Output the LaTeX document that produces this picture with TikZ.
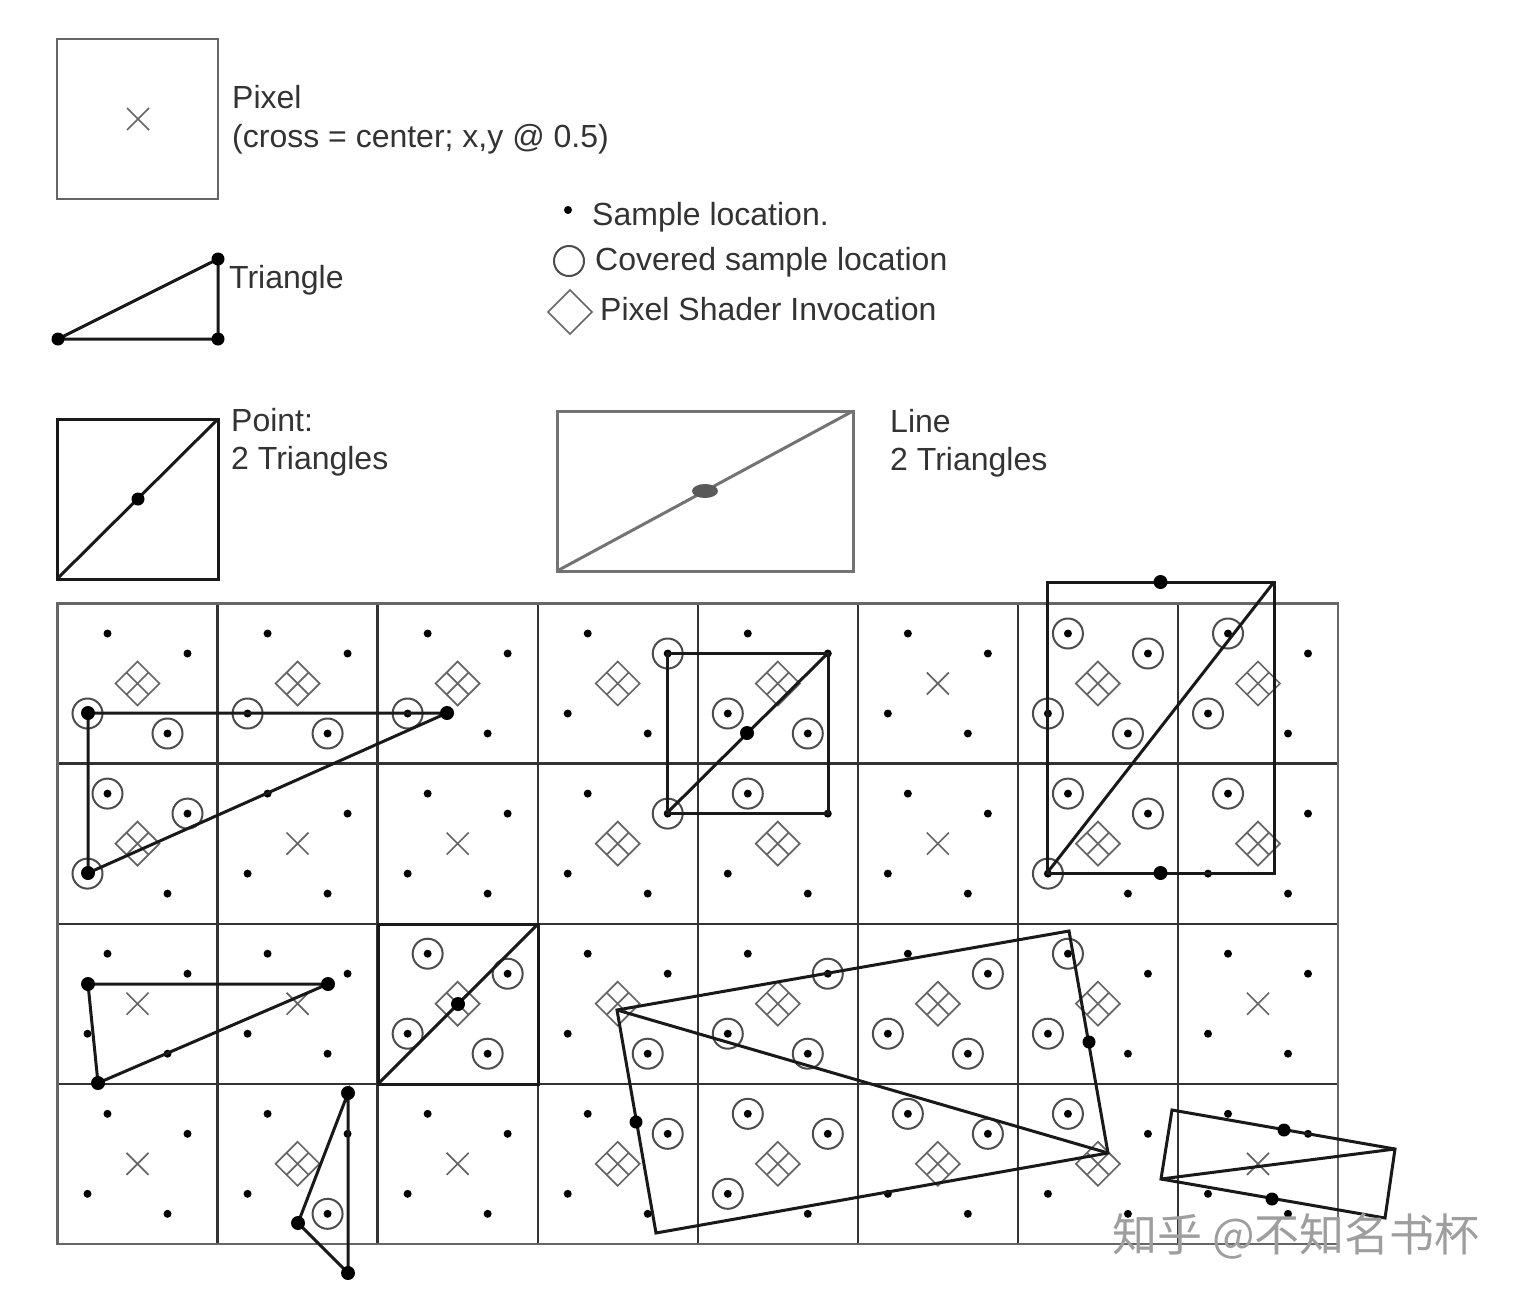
\documentclass[tikz,border=0pt]{standalone}
\usepackage{fontspec}
\setmainfont{Liberation Sans}
\newfontfamily\cjkwm{Noto Sans CJK SC}
\usetikzlibrary{calc}
\definecolor{inkline}{HTML}{333333}
\definecolor{softline}{HTML}{666666}
\definecolor{textink}{HTML}{333333}
\tikzset{
  lbl/.style={anchor=base west,inner sep=0pt,text=textink,font=\fontsize{32}{38}\selectfont},
  gridline/.style={draw=inkline,line width=2.4pt},
  outerline/.style={draw=softline,line width=2.4pt},
  prim/.style={draw=black!90,line width=3pt,line join=miter},
  sampledot/.style={fill=black},
  vertexdot/.style={fill=black},
  covring/.style={draw=black!70,line width=2pt},
  markline/.style={draw=softline,line width=1.7pt}
}
\newcommand{\drawdiamond}[1]{%
  \draw[markline,shift={(#1)}] (-22,0) -- (0,-22) -- (22,0) -- (0,22) -- cycle
     (-11,-11) -- (11,11) (-11,11) -- (11,-11);}
\newcommand{\drawcross}[1]{%
  \draw[markline,shift={(#1)}] (-11,-11) -- (11,11) (-11,11) -- (11,-11);}
\newcommand{\covered}[3]{\draw[covring] (s-#1-#2-#3) circle[radius=15pt];}
\begin{document}
\begin{tikzpicture}[x=1pt,y=-1pt]
\useasboundingbox (0,0) rectangle (1522,1298);
\fill[white] (0,0) rectangle (1522,1298);

% ---------- legend ----------
\coordinate (pxa) at (57,39); \coordinate (pxb) at (218,199); \coordinate (pxc) at (138,119);
\draw[outerline] (pxa) rectangle (pxb);
\drawcross{pxc}
\node[lbl] (tpixel) at (232,108) {Pixel};
\node[lbl] (tcross) at (232,147) {(cross = center; x,y @ 0.5)};

\coordinate (lta) at (58,339); \coordinate (ltb) at (218,259); \coordinate (ltc) at (218,339);
\draw[prim] (lta) -- (ltb) -- (ltc) -- cycle;
\foreach \pp in {lta,ltb,ltc} \fill[vertexdot] (\pp) circle[radius=6.5pt];
\node[lbl] (ttri) at (229,288) {Triangle};

\coordinate (lsd) at (568,210);
\fill[sampledot] (lsd) circle[radius=4pt];
\node[lbl] (tsample) at (592,225) {Sample location.};
\coordinate (lcr) at (569,261);
\draw[covring] (lcr) circle[radius=15pt];
\node[lbl] (tcov) at (595,270) {Covered sample location};
\coordinate (ldm) at (570,312);
\draw[markline,shift={(ldm)}] (-22,0) -- (0,-22) -- (22,0) -- (0,22) -- cycle;
\node[lbl] (tshader) at (600,320) {Pixel Shader Invocation};

\coordinate (pta) at (57,419); \coordinate (ptb) at (218,579); \coordinate (ptc) at (138,499);
\coordinate (ptd) at (57,579); \coordinate (pte) at (218,419);
\draw[prim] (pta) rectangle (ptb);
\draw[prim] (ptd) -- (pte);
\fill[vertexdot] (ptc) circle[radius=6.5pt];
\node[lbl] (tpoint) at (231,431) {Point:};
\node[lbl] (tpoint2) at (231,469) {2 Triangles};

\coordinate (lna) at (557,411); \coordinate (lnb) at (853,571); \coordinate (lnc) at (705,491);
\coordinate (lnd) at (557,571); \coordinate (lne) at (853,411);
\draw[draw=black!55,line width=3pt] (lna) rectangle (lnb);
\draw[draw=black!55,line width=3pt] (lnd) -- (lne);
\fill[black!65] (lnc) ellipse[x radius=13pt,y radius=7pt];
\node[lbl] (tline) at (890,432) {Line};
\node[lbl] (tline2) at (890,470) {2 Triangles};

% ---------- pixel grid ----------
\coordinate (ga) at (57.5,603.5); \coordinate (gb) at (1338,1244);
\foreach \ii in {1,...,7} {
  \coordinate (gt\ii) at ({57.5+160.07*\ii},603.5);
  \coordinate (gu\ii) at ({57.5+160.07*\ii},1244);
  \draw[gridline] (gt\ii) -- (gu\ii);
}
\foreach \jj in {1,2,3} {
  \coordinate (gl\jj) at (57.5,{603.5+160.1*\jj});
  \coordinate (gr\jj) at (1338,{603.5+160.1*\jj});
  \draw[gridline] (gl\jj) -- (gr\jj);
}
\draw[outerline] (ga) rectangle (gb);

% cell anchors, sample locations and centres
\foreach \cc in {0,...,7} {\foreach \rr in {0,...,3} {
  \coordinate (s-\cc-\rr-a) at ({57.5+160.07*\cc+50},{603.5+160.1*\rr+30});
  \coordinate (s-\cc-\rr-b) at ({57.5+160.07*\cc+130},{603.5+160.1*\rr+50});
  \coordinate (s-\cc-\rr-c) at ({57.5+160.07*\cc+30},{603.5+160.1*\rr+110});
  \coordinate (s-\cc-\rr-d) at ({57.5+160.07*\cc+110},{603.5+160.1*\rr+130});
  \coordinate (m-\cc-\rr) at ({57.5+160.07*\cc+80},{603.5+160.1*\rr+80});
  \fill[sampledot] (s-\cc-\rr-a) circle[radius=4pt];
  \fill[sampledot] (s-\cc-\rr-b) circle[radius=4pt];
  \fill[sampledot] (s-\cc-\rr-c) circle[radius=4pt];
  \fill[sampledot] (s-\cc-\rr-d) circle[radius=4pt];
}}
% centre marks
\foreach \nm in {5-0,1-1,2-1,5-1,0-2,1-2,7-2,0-3,2-3,7-3} {\drawcross{m-\nm}}
\foreach \nm in {0-0,1-0,2-0,3-0,4-0,6-0,7-0,0-1,3-1,4-1,6-1,7-1,2-2,3-2,4-2,5-2,6-2,1-3,3-3,4-3,5-3,6-3} {\drawdiamond{m-\nm}}
% covered samples
\covered00c \covered00d \covered10c \covered10d \covered20c \covered30b \covered40c \covered40d
\covered60a \covered60b \covered60c \covered60d \covered70a \covered70c
\covered01a \covered01b \covered01c \covered31b \covered41a \covered61a \covered61b \covered61c \covered71a
\covered22a \covered22b \covered22c \covered22d \covered32d \covered42b \covered42c \covered42d
\covered52b \covered52c \covered52d \covered62a \covered62c
\covered13d \covered33b \covered43a \covered43b \covered43c \covered53a \covered53b \covered63a

% ---------- primitives ----------
\coordinate (ta1) at (88,713); \coordinate (ta2) at (447,713); \coordinate (ta3) at (88,873);
\draw[prim] (ta1) -- (ta2) -- (ta3) -- cycle;
\foreach \pp in {ta1,ta2,ta3} {\fill[vertexdot] (\pp) circle[radius=7pt];}

\coordinate (qa1) at (667,653); \coordinate (qa2) at (828,653); \coordinate (qa3) at (828,813); \coordinate (qa4) at (667,813); \coordinate (qac) at (747,733);
\draw[prim] (qa1) -- (qa2) -- (qa3) -- (qa4) -- cycle;
\draw[prim] (qa4) -- (qa2);
\fill[vertexdot] (qac) circle[radius=7pt];

\coordinate (ra1) at (1047,582); \coordinate (ra2) at (1274,582); \coordinate (ra3) at (1274,873); \coordinate (ra4) at (1047,873);
\coordinate (ram) at (1160.5,582); \coordinate (ran) at (1160.5,873);
\draw[prim] (ra1) -- (ra2) -- (ra3) -- (ra4) -- cycle;
\draw[prim] (ra4) -- (ra2);
\foreach \pp in {ram,ran} {\fill[vertexdot] (\pp) circle[radius=7pt];}

\coordinate (tb1) at (88,984); \coordinate (tb2) at (328,984); \coordinate (tb3) at (98,1083);
\draw[prim] (tb1) -- (tb2) -- (tb3) -- cycle;
\foreach \pp in {tb1,tb2,tb3} {\fill[vertexdot] (\pp) circle[radius=7pt];}

\coordinate (qb1) at (378,924); \coordinate (qb2) at (538,924); \coordinate (qb3) at (538,1084); \coordinate (qb4) at (378,1084); \coordinate (qbc) at (458,1004);
\draw[prim] (qb1) -- (qb2) -- (qb3) -- (qb4) -- cycle;
\draw[prim] (qb4) -- (qb2);
\fill[vertexdot] (qbc) circle[radius=7pt];

\coordinate (tc1) at (348,1093); \coordinate (tc2) at (348,1273); \coordinate (tc3) at (298,1223);
\draw[prim] (tc1) -- (tc2) -- (tc3) -- cycle;
\foreach \pp in {tc1,tc2,tc3} {\fill[vertexdot] (\pp) circle[radius=7pt];}

\coordinate (qc1) at (617,1010); \coordinate (qc2) at (1069,931); \coordinate (qc3) at (1108,1153); \coordinate (qc4) at (656,1233);
\coordinate (qcm) at (636,1122); \coordinate (qcn) at (1089,1042);
\draw[prim] (qc1) -- (qc2) -- (qc3) -- (qc4) -- cycle;
\draw[prim] (qc1) -- (qc3);
\foreach \pp in {qcm,qcn} {\fill[vertexdot] (\pp) circle[radius=6.5pt];}

\coordinate (qd1) at (1172,1110); \coordinate (qd2) at (1395,1149); \coordinate (qd3) at (1385,1218); \coordinate (qd4) at (1161,1179);
\coordinate (qdm) at (1284,1130); \coordinate (qdn) at (1272,1199);
\draw[prim] (qd1) -- (qd2) -- (qd3) -- (qd4) -- cycle;
\draw[prim] (qd4) -- (qd2);
\foreach \pp in {qdm,qdn} {\fill[vertexdot] (\pp) circle[radius=6.5pt];}

% ---------- watermark ----------
\node[anchor=base west,inner sep=0pt,text=black!38,font=\cjkwm\fontsize{45}{52}\selectfont] (wm) at (1112,1251) {知乎 @不知名书杯};
\end{tikzpicture}
\end{document}
